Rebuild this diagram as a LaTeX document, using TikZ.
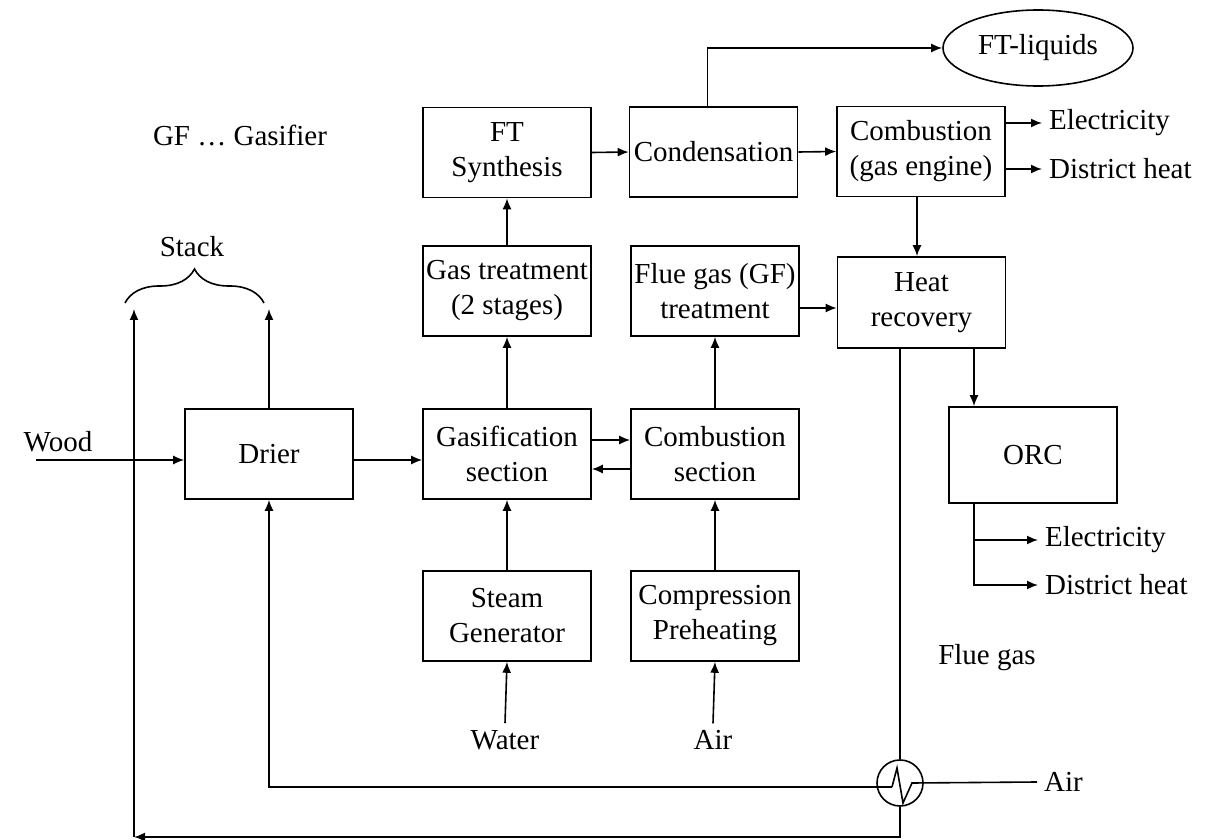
\documentclass[tikz,border=0pt]{standalone}
\usepackage{fontspec}
\setmainfont{Liberation Serif}
\usetikzlibrary{arrows.meta,positioning,shapes.geometric,calc,decorations.pathreplacing}

\begin{document}
\begin{tikzpicture}[
  x=0.5pt, y=-0.5pt,
  every node/.style={font=\fontsize{14.5}{17.5}\selectfont},
  unit/.style={draw, line width=0.8pt, minimum width=84pt, minimum height=45pt, align=center, inner sep=1pt},
  flow/.style={-{Latex[length=5.5pt,width=4.5pt]}, line width=0.8pt},
  pipe/.style={line width=0.8pt}
]
  \useasboundingbox (0,0) rectangle (1207,840);

  % Process units
  \node[unit] (drier)     at (269,454)   {Drier};
  \node[unit] (gasif)     at (507,454)   {Gasification\\section};
  \node[unit] (steam)     at (507,616)   {Steam\\Generator};
  \node[unit] (gastreat)  at (507,291)   {Gas treatment\\(2 stages)};
  \node[unit] (ftsyn)     at (507,152.5) {FT\\Synthesis};
  \node[unit] (comb)      at (715,454)   {Combustion\\section};
  \node[unit] (compr)     at (715,616)   {Compression\\Preheating};
  \node[unit] (fluetreat) at (715,291)   {Flue gas (GF)\\treatment};
  \node[unit] (cond)      at (713.5,152) {Condensation};
  \node[unit] (engine)    at (921,151.5) {Combustion\\(gas engine)};
  \node[unit, minimum height=45.5pt] (heatrec) at (921.5,302.5) {Heat\\recovery};
  \node[unit, minimum height=48pt]   (orc)     at (1033,455)   {ORC};
  \node[draw, ellipse, line width=0.8pt, minimum width=95pt, minimum height=38pt, inner sep=0pt] (ftliq) at (1038,48) {FT-liquids};
  \node[draw, circle, line width=0.8pt, minimum size=23pt, inner sep=0pt] (hx) at (900,783) {};

  % Labels
  \node (legend) at (240,135) {GF \dots\ Gasifier};
  \node (stack)  at (192,247) {Stack};
  \node (wood)   at (58,442)  {Wood};
  \node (water)  at (505,740) {Water};
  \node (air)    at (713,740) {Air};
  \node (flue)   at (987,658) {Flue gas};
  \node[anchor=west] (elec1) at (1042,123) {Electricity};
  \node[anchor=west] (heat1) at (1042,169) {District heat};
  \node[anchor=west] (elec2) at (1038,540) {Electricity};
  \node[anchor=west] (heat2) at (1038,585) {District heat};
  \node[anchor=west] (airin) at (1037,782) {Air};

  \coordinate (woodin) at (36,460);
  \coordinate (stackL) at (134,309);
  \coordinate (cornerL) at (134,837);
  \coordinate (orcin) at (974,0);

  % Main line
  \draw[flow] (woodin) -- (woodin -| drier.west);
  \draw[flow] (woodin -| drier.east) -- (woodin -| gasif.west);
  \draw[flow] ([yshift=7pt]gasif.east) -- ([yshift=7pt]comb.west);
  \draw[flow] ([yshift=-7.5pt]comb.west) -- ([yshift=-7.5pt]gasif.east);

  % Vertical streams
  \foreach \a/\b in {steam/gasif, gasif/gastreat, gastreat/ftsyn, compr/comb, comb/fluetreat} {
    \draw[flow] (\a.north) -- (\b.south);
  }
  \draw[flow] (water.north) -- (steam.south);
  \draw[flow] (air.north) -- (compr.south);

  % Synthesis and products
  \draw[flow] (ftsyn.east) -- (cond.west);
  \draw[flow] (cond.east) -- (engine.west);
  \draw[flow] ([xshift=-3pt]cond.north) |- (ftliq.west);
  \draw[flow] (engine.east |- elec1) -- (elec1.west);
  \draw[flow] (engine.east |- heat1) -- (heat1.west);
  \draw[flow] ([xshift=-2pt]engine.south) -- ([xshift=-2pt]engine.south |- heatrec.north);
  \draw[flow] (fluetreat.east |- 0,308) -- (heatrec.west |- 0,308);

  % Heat recovery and ORC
  \draw[flow] (orcin |- heatrec.south) -- (orcin |- orc.north);
  \draw[flow] (orcin |- orc.south) |- (heat2.west);
  \draw[flow] (orcin |- elec2) -- (elec2.west);

  % Flue gas through heat exchanger
  \draw[pipe] (hx.north |- heatrec.south) -- (hx.north);
  \draw[flow] (hx.south) |- (cornerL);
  \draw[flow] (cornerL) -- (stackL);
  \draw[flow] (drier.north) -- (drier.north |- stackL);

  % Air through heat exchanger
  \draw[pipe] (airin.west) -- ($(hx)+(12,0)$) -- ++(-9,20) -- ++(-6,-35) -- ++(-5,19) coordinate (hxL);
  \draw[flow] (hxL) -| (drier.south);

  % Stack brace
  \draw[pipe, decorate, decoration={brace, amplitude=17pt}]
    (125,303) -- (264,303);
\end{tikzpicture}
\end{document}
